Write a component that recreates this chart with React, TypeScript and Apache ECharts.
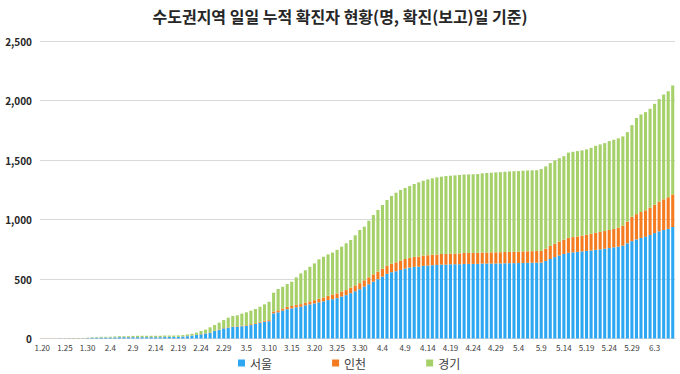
import React, { useEffect, useRef } from "react";
import * as echarts from "echarts";

const categories: string[] = [
  "1.20","1.21","1.22","1.23","1.24","1.25","1.26","1.27","1.28","1.29","1.30","1.31",
  "2.1","2.2","2.3","2.4","2.5","2.6","2.7","2.8","2.9","2.10","2.11","2.12","2.13","2.14","2.15","2.16","2.17","2.18","2.19","2.20","2.21","2.22","2.23","2.24","2.25","2.26","2.27","2.28","2.29",
  "3.1","3.2","3.3","3.4","3.5","3.6","3.7","3.8","3.9","3.10","3.11","3.12","3.13","3.14","3.15","3.16","3.17","3.18","3.19","3.20","3.21","3.22","3.23","3.24","3.25","3.26","3.27","3.28","3.29","3.30","3.31",
  "4.1","4.2","4.3","4.4","4.5","4.6","4.7","4.8","4.9","4.10","4.11","4.12","4.13","4.14","4.15","4.16","4.17","4.18","4.19","4.20","4.21","4.22","4.23","4.24","4.25","4.26","4.27","4.28","4.29","4.30",
  "5.1","5.2","5.3","5.4","5.5","5.6","5.7","5.8","5.9","5.10","5.11","5.12","5.13","5.14","5.15","5.16","5.17","5.18","5.19","5.20","5.21","5.22","5.23","5.24","5.25","5.26","5.27","5.28","5.29","5.30","5.31",
  "6.1","6.2","6.3","6.4","6.5","6.6","6.7",
];

const seoul: number[] = [
  0,0,0,0, 1,1,1,1,1,1, 3,6,7,8,8,8,9, 11,11,11,11,11,11,11,11,11,11, 13,13,13, 14,16,19,
  24,30,35,42,49,64,71,85,91,97,100,103,105,113,122,133,141,145,
  211,220,234,246,253,262,267,279,287,295,304,312,323,
  330,339,353,364,381,397,414,436,456,478, 498,520,543,557,565,576,588,596,602,604,
  610,613,616,618,621,621,624,624,624,627, 627,627,627,630,630,630,
  630,631,632,633,633,634,635,636,637,637,
  638,652,668,684,698,710,720,724,728,732, 736,740,745,749,754,760,766,772,780,800,
  818,832,845,855,870,886,900,912,922,937,
];

const incheon: number[] = [
  1,1,1,1,1,1,1,1,1,1,1,1,1,1,1,1,1,1,1,1,1,1,1,1,1,1,1,1,1,1,1,1,1,
  1,1,2,2,2,2,3,3,3,4,4,5,6,7,7,8,9,9,
  16,17,18,19,20,21,22,23,25,27,30,33,36,
  40,40,42,43,46,49,51,53,58,61, 64,66,68,72,75,78,80,82,84,85,
  86,87,88,88,89,90,90,90,91,92, 92,92,93,93,93,94,
  94,94,95,95,96,96,97,97,97,98,
  99,103,110,113,117,120,126,128,130,132, 136,140,144,147,149,152,155,160,168,182,
  205,213,218,222,230,238,250,258,265,274,
];

const gyeonggi: number[] = [
  0,0,0,0,0,0, 1,2,2,2, 2,3,4,5,5,6,7, 7,7,7,10,11,11,11,11,11,11, 11,11,11, 11,12,14,
  14,18,26,30,43,47,59,67,81,88,91,101,109,114,119,126,137,155,
  158,179,183,193,204,231,258,271,291,309,331,342,348,
  352,366,377,393,401,421,447,451,476,499, 518,536,553,569,585,594,597,603,612,623,
  630,637,642,648,650,654,654,657,659,659, 660,661,662,665,668,669,
  672,673,674,676,677,677,678,679,679,679,
  687,691,696,699,700,702,716,717,717,717, 717,722,730,735,739,747,749,750,750,752,
  770,808,820,825,830,848,862,880,891,915,
];

const seriesNames = ["서울", "인천", "경기"];
const seriesColors = ["#2ea7f3", "#f47b20", "#a6d16a"];
const yTicks = { min: 0, max: 2500, interval: 500 };
const titleText = "수도권지역 일일 누적 확진자 현황(명, 확진(보고)일 기준)";

const FONT = "'Noto Sans CJK KR', 'Noto Sans', sans-serif";

export default function App() {
  const ref = useRef<HTMLDivElement>(null);
  useEffect(() => {
    if (!ref.current) return;
    const chart = echarts.init(ref.current, undefined, { renderer: "svg" });
    const dataSets = [seoul, incheon, gyeonggi];
    chart.setOption({
      animation: false,
      backgroundColor: "#ffffff",
      textStyle: { fontFamily: FONT },
      title: {
        text: titleText,
        left: "center",
        top: 3,
        textStyle: { fontFamily: FONT, fontSize: 16, fontWeight: "bold", color: "#262626" },
      },
      legend: {
        bottom: 0,
        left: 233,
        icon: "rect",
        itemWidth: 7,
        itemHeight: 7,
        itemGap: 60,
        textStyle: { fontFamily: FONT, fontSize: 12, color: "#404040" },
        data: seriesNames,
      },
      grid: { left: 40, right: 5, top: 41, bottom: 35.5 },
      xAxis: {
        type: "category",
        data: categories,
        axisLine: { show: true, lineStyle: { color: "#d9d9d9" } },
        axisTick: { show: false },
        axisLabel: {
          interval: 4,
          fontFamily: FONT,
          fontSize: 8,
          color: "#404040",
          margin: 5,
        },
      },
      yAxis: {
        type: "value",
        min: yTicks.min,
        max: yTicks.max,
        interval: yTicks.interval,
        axisLine: { show: false },
        axisTick: { show: false },
        splitLine: { lineStyle: { color: "#d9d9d9" } },
        axisLabel: {
          fontFamily: FONT,
          fontSize: 10,
          fontWeight: "bold",
          color: "#262626",
          margin: 8,
          formatter: (v: number) => v.toLocaleString("en-US"),
        },
      },
      series: seriesNames.map((name, i) => ({
        name,
        type: "bar",
        stack: "total",
        barCategoryGap: "32%",
        itemStyle: { color: seriesColors[i] },
        data: dataSets[i],
      })),
    });
    return () => chart.dispose();
  }, []);
  return (
    <div
      ref={ref}
      style={{ position: "fixed", left: 0, top: 0, width: 680, height: 374, background: "#fff" }}
    />
  );
}
